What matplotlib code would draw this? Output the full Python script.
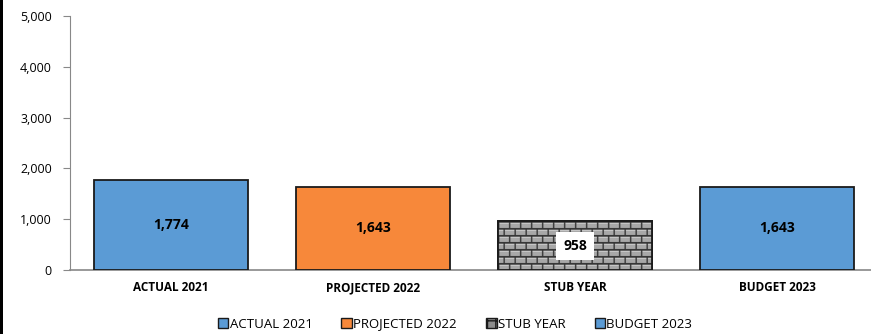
import matplotlib
matplotlib.use('Agg')

import numpy as np
import matplotlib.pyplot as plt
from matplotlib.patches import Rectangle, Patch
from matplotlib.ticker import FuncFormatter

# categories and values
categories = ["ACTUAL 2021", "PROJECTED 2022", "STUB YEAR", "BUDGET 2023"]
values = [1774, 1643, 958, 1643]
colors = ["#5b9bd5", "#f7883a", "#8c8c8c", "#5b9bd5"]

plt.rcParams['font.family'] = ['Open Sans', 'DejaVu Sans']

fig = plt.figure(figsize=(8.71, 3.34), dpi=100)
ax = fig.add_axes([70 / 871, 64 / 334, 808 / 871, 254 / 334])

x = np.arange(len(categories))
bars = ax.bar(x, values, width=0.76, color=colors, edgecolor="#1a1a1a", linewidth=1.3, zorder=3)

# brick texture for the stub-year bar: 14 bricks across, 7 courses high
cw, ch = 16, 8
brick = np.full((7 * ch, 14 * cw), 0.66)
for k, r in enumerate(range(0, 7 * ch, ch)):
    brick[r + 2:r + 3, :] = 0.85          # highlight along each course
    brick[r:r + 2, :] = 0.2               # horizontal mortar
    off = 0 if k % 2 == 0 else cw // 2
    for c in range(off, 14 * cw, cw):
        brick[r:r + ch, c:c + 2] = 0.2    # vertical joints
stub = bars[2]
bx, bw, bh = stub.get_x(), stub.get_width(), stub.get_height()
img = ax.imshow(brick, cmap="gray", vmin=0, vmax=1, aspect="auto",
                extent=[bx, bx + bw, 0, bh], zorder=3.5, interpolation="bilinear")
img.set_clip_path(stub)
ax.add_patch(Rectangle((bx, 0), bw, bh, fill=False, edgecolor="#1a1a1a", linewidth=1.3, zorder=4))

# value labels
for i, (b, v) in enumerate(zip(bars, values)):
    box = dict(facecolor="white", edgecolor="none", pad=5) if i == 2 else None
    ax.text(b.get_x() + b.get_width() / 2, v / 2, f"{v:,}",
            ha="center", va="center", fontsize=10, fontweight="bold", color="black",
            bbox=box, zorder=5)

ax.set_xlim(-0.5, 3.5)
ax.set_ylim(0, 5000)
ax.set_yticks(range(0, 5001, 1000))
ax.yaxis.set_major_formatter(FuncFormatter(lambda v, p: f"{int(v):,}"))
ax.set_xticks(x)
ax.set_xticklabels(categories, fontsize=8.5, fontweight="bold")
ax.tick_params(axis="x", length=0, pad=8)
ax.tick_params(axis="y", labelsize=9, length=5, color="#888888", pad=8, direction="out")

for s in ["top", "right"]:
    ax.spines[s].set_visible(False)
ax.spines["left"].set_color("#888888")
ax.spines["bottom"].set_color("#888888")
ax.spines["bottom"].set_linewidth(1.2)

handles = [Patch(facecolor=c, edgecolor="#1a1a1a") for c in colors]
handles[2] = Patch(facecolor="#8c8c8c", edgecolor="#1a1a1a", hatch="++")
fig.legend(handles, categories, loc="center", bbox_to_anchor=(455 / 871, 10 / 334), ncol=4,
           frameon=False, fontsize=9.5, handlelength=0.8, handleheight=0.8,
           handletextpad=0.1, columnspacing=2.2)

# dark strip along the left edge
fig.patches.append(Rectangle((0, 0), 3 / 871, 1, transform=fig.transFigure,
                             facecolor="black", edgecolor="none"))

fig.savefig("out.png", dpi=100)
